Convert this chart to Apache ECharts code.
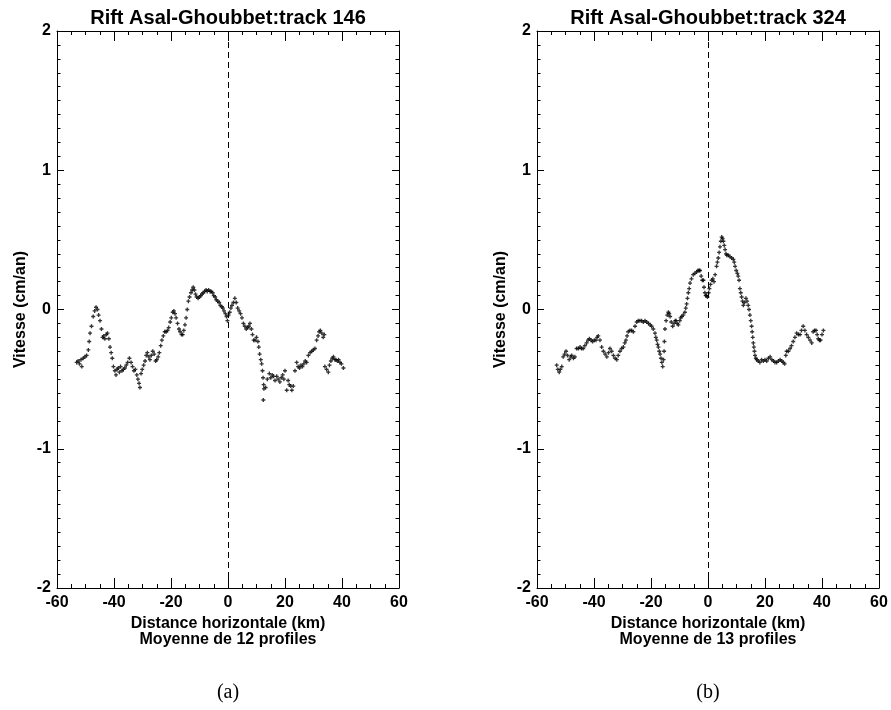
<!DOCTYPE html>
<html>
<head>
<meta charset="utf-8">
<script src="https://cdn.jsdelivr.net/npm/echarts@6/dist/echarts.min.js"></script>
<style>
  html, body { margin: 0; padding: 0; background: #fff; }
  #chart { width: 891px; height: 710px; }
</style>
</head>
<body>
<div id="chart"></div>
<script>
// track 146 (panel a): distance (km) / velocity (cm/an)
const distA = [
  -53.1, -52.6, -52.1, -51.6, -51.3, -50.8, -50.2, -49.6, -49.0, -48.7, -48.4, -47.9, -47.3, -46.8, -46.3, -45.8,
  -45.4, -44.9, -44.4, -44.0, -43.6, -43.2, -42.7, -42.3, -41.8, -41.4, -41.0, -40.6, -40.2, -39.7, -39.3, -38.9,
  -38.5, -38.1, -37.7, -37.2, -36.7, -36.2, -35.7, -35.2, -34.6, -34.0, -33.5, -33.0, -32.5, -32.0, -31.6, -31.2,
  -30.9, -30.5, -30.1, -29.6, -29.1, -28.7, -28.3, -27.8, -27.4, -26.9, -26.4, -25.9, -25.4, -25.0, -24.5, -24.1,
  -23.6, -23.2, -22.7, -22.2, -21.7, -21.2, -20.8, -20.3, -19.9, -19.4, -19.0, -18.6, -18.2, -17.7, -17.2, -16.8,
  -16.3, -15.9, -15.5, -15.1, -14.7, -14.3, -13.9, -13.5, -13.0, -12.6, -12.2, -11.8, -11.4, -11.0, -10.5, -10.0,
  -9.6, -9.1, -8.7, -8.2, -7.7, -7.3, -6.8, -6.3, -5.9, -5.4, -5.0, -4.5, -4.1, -3.6, -3.1, -2.7,
  -2.2, -1.8, -1.4, -0.9, -0.5, -0.2, 0.2, 0.6, 1.0, 1.4, 1.9, 2.4, 2.9, 3.4, 3.9, 4.4,
  4.9, 5.4, 5.9, 6.4, 6.9, 7.3, 7.7, 8.2, 8.6, 9.0, 9.5, 10.0, 10.5, 10.8, 11.1, 11.5,
  11.8, 12.1, 12.3, 12.5, 12.6, 12.4, 13.2, 13.8, 14.5, 15.0, 15.5, 16.0, 16.5, 17.1, 17.6, 18.2,
  18.7, 19.2, 19.6, 20.0, 20.6, 21.1, 21.5, 22.0, 22.4, 22.9, 23.5, 24.1, 24.6, 25.1, 25.6, 26.1,
  26.6, 27.1, 27.6, 28.2, 28.8, 29.4, 29.9, 30.5, 31.1, 31.6, 32.0, 32.4, 32.9, 33.4, 33.8, 34.0,
  34.6, 35.2, 35.6, 36.1, 36.6, 37.0, 37.5, 37.9, 38.4, 38.8, 39.3, 39.8, 40.5
];
const speedA = [
  -0.38, -0.37, -0.39, -0.36, -0.41, -0.35, -0.34, -0.33, -0.29, -0.23, -0.17, -0.12, -0.05, -0.01, 0.016, 0.0,
  -0.04, -0.08, -0.14, -0.20, -0.19, -0.21, -0.18, -0.17, -0.21, -0.27, -0.31, -0.35, -0.41, -0.44, -0.47, -0.43,
  -0.42, -0.45, -0.41, -0.44, -0.43, -0.42, -0.40, -0.38, -0.35, -0.38, -0.41, -0.44, -0.43, -0.47, -0.50, -0.53,
  -0.56, -0.46, -0.43, -0.40, -0.37, -0.33, -0.31, -0.34, -0.36, -0.33, -0.30, -0.32, -0.37, -0.36, -0.34, -0.31,
  -0.26, -0.22, -0.19, -0.16, -0.16, -0.15, -0.13, -0.09, -0.06, -0.02, -0.01, -0.03, -0.06, -0.10, -0.14, -0.16,
  -0.18, -0.18, -0.15, -0.11, -0.06, 0.00, 0.06, 0.09, 0.12, 0.14, 0.16, 0.14, 0.11, 0.09, 0.08, 0.09,
  0.10, 0.11, 0.12, 0.13, 0.14, 0.13, 0.14, 0.13, 0.13, 0.12, 0.10, 0.09, 0.07, 0.06, 0.05, 0.03,
  0.02, 0.01, -0.01, -0.03, -0.05, -0.08, -0.04, -0.02, 0.01, 0.03, 0.05, 0.08, 0.05, 0.01, -0.01, -0.03,
  -0.06, -0.10, -0.12, -0.14, -0.13, -0.12, -0.10, -0.14, -0.18, -0.22, -0.22, -0.20, -0.23, -0.27, -0.32, -0.36,
  -0.39, -0.44, -0.49, -0.54, -0.57, -0.65, -0.56, -0.50, -0.46, -0.49, -0.47, -0.48, -0.51, -0.48, -0.50, -0.52,
  -0.49, -0.47, -0.50, -0.44, -0.58, -0.51, -0.54, -0.55, -0.58, -0.55, -0.44, -0.38, -0.41, -0.42, -0.40, -0.41,
  -0.39, -0.37, -0.38, -0.33, -0.31, -0.30, -0.29, -0.28, -0.22, -0.19, -0.16, -0.15, -0.17, -0.20, -0.18, -0.41,
  -0.43, -0.45, -0.40, -0.37, -0.35, -0.34, -0.36, -0.36, -0.37, -0.36, -0.38, -0.39, -0.42
];

// track 324 (panel b)
const distB = [
  -53.1, -52.7, -52.2, -51.8, -51.3, -50.8, -50.3, -49.8, -49.3, -48.7, -48.2, -47.8, -47.2, -46.7, -46.1, -45.5,
  -44.9, -44.4, -43.8, -43.2, -42.6, -42.1, -41.6, -41.0, -40.5, -39.9, -39.3, -38.9, -38.5, -37.9, -37.3, -36.7,
  -36.1, -35.5, -34.9, -34.4, -33.8, -33.2, -32.6, -32.0, -31.5, -30.9, -30.3, -29.7, -29.2, -28.8, -28.4, -28.0,
  -27.4, -26.8, -26.2, -25.6, -25.0, -24.5, -23.9, -23.3, -22.7, -22.1, -21.5, -20.9, -20.3, -19.8, -19.2, -18.6,
  -18.3, -18.0, -17.7, -17.4, -17.1, -16.8, -16.5, -16.2, -15.9, -15.6, -15.4, -15.3, -15.1, -14.7, -14.3, -13.9,
  -13.6, -13.3, -12.9, -12.4, -11.9, -11.5, -11.2, -10.8, -10.4, -9.9, -9.6, -9.2, -8.7, -8.1, -7.8, -7.5,
  -7.2, -6.9, -6.6, -6.3, -5.8, -5.2, -4.6, -4.0, -3.5, -3.1, -2.8, -2.4, -2.0, -1.6, -1.4, -1.1,
  -0.8, -0.5, -0.2, 0.2, 0.5, 0.9, 1.3, 1.7, 2.1, 2.5, 3.0, 3.3, 3.6, 3.9, 4.2, 4.5,
  4.8, 5.1, 5.4, 5.7, 6.0, 6.3, 6.6, 7.1, 7.7, 8.3, 8.9, 9.2, 9.5, 9.9, 10.3, 10.6,
  10.9, 11.2, 11.5, 11.8, 12.1, 12.4, 12.8, 13.3, 13.7, 14.1, 14.4, 14.7, 15.0, 15.3, 15.5, 15.7,
  15.9, 16.1, 16.3, 16.5, 16.8, 17.1, 17.6, 18.2, 18.8, 19.4, 20.0, 20.6, 21.2, 21.8, 22.4, 23.0,
  23.5, 24.1, 24.7, 25.3, 25.9, 26.4, 26.9, 27.3, 27.6, 28.2, 28.8, 29.3, 29.9, 30.5, 31.1, 31.7,
  32.3, 32.8, 33.4, 34.0, 34.6, 35.2, 35.8, 36.4, 36.9, 37.4, 37.9, 38.3, 38.7, 39.1, 39.5, 40.0,
  40.5
];
const speedB = [
  -0.40, -0.43, -0.45, -0.43, -0.41, -0.34, -0.32, -0.30, -0.33, -0.36, -0.34, -0.33, -0.35, -0.34, -0.28, -0.28,
  -0.27, -0.28, -0.28, -0.26, -0.24, -0.22, -0.21, -0.22, -0.23, -0.22, -0.22, -0.20, -0.19, -0.22, -0.27, -0.30,
  -0.32, -0.34, -0.31, -0.28, -0.30, -0.33, -0.35, -0.36, -0.33, -0.30, -0.28, -0.27, -0.24, -0.22, -0.19, -0.16,
  -0.15, -0.15, -0.16, -0.12, -0.09, -0.08, -0.08, -0.08, -0.09, -0.08, -0.09, -0.10, -0.11, -0.12, -0.14, -0.17,
  -0.20, -0.22, -0.25, -0.27, -0.30, -0.32, -0.35, -0.38, -0.41, -0.36, -0.30, -0.23, -0.14, -0.08, -0.04, -0.02,
  -0.03, -0.05, -0.09, -0.12, -0.10, -0.08, -0.08, -0.10, -0.11, -0.08, -0.06, -0.05, -0.04, -0.02, 0.01, 0.04,
  0.08, 0.12, 0.15, 0.19, 0.22, 0.25, 0.26, 0.27, 0.28, 0.28, 0.28, 0.24, 0.21, 0.21, 0.16, 0.12,
  0.10, 0.10, 0.09, 0.12, 0.15, 0.18, 0.21, 0.22, 0.20, 0.25, 0.31, 0.34, 0.37, 0.41, 0.45, 0.49,
  0.52, 0.51, 0.49, 0.46, 0.43, 0.40, 0.39, 0.39, 0.38, 0.37, 0.36, 0.34, 0.31, 0.28, 0.26, 0.24,
  0.21, 0.15, 0.12, 0.09, 0.06, 0.03, 0.05, 0.08, 0.06, 0.03, 0.00, -0.04, -0.08, -0.12, -0.16, -0.20,
  -0.24, -0.27, -0.30, -0.33, -0.35, -0.36, -0.37, -0.38, -0.36, -0.37, -0.36, -0.37, -0.35, -0.34, -0.36, -0.37,
  -0.38, -0.38, -0.37, -0.36, -0.37, -0.38, -0.39, -0.33, -0.30, -0.30, -0.28, -0.26, -0.23, -0.20, -0.17, -0.18,
  -0.18, -0.15, -0.12, -0.15, -0.18, -0.20, -0.22, -0.24, -0.16, -0.15, -0.15, -0.18, -0.21, -0.22, -0.22, -0.18,
  -0.15
];

const xTicks = [-60, 60, 20];
const yTicks = [-2, 2, 1];
const panelTitles = ['Rift Asal-Ghoubbet:track 146', 'Rift Asal-Ghoubbet:track 324'];
const xNames = ['Distance horizontale (km)\nMoyenne de 12 profiles', 'Distance horizontale (km)\nMoyenne de 13 profiles'];
const yName = 'Vitesse (cm/an)';
const captions = ['(a)', '(b)'];

const font = 'Liberation Sans, Arial, Helvetica, sans-serif';
const plus = 'path://M1,0H2V1H3V2H2V3H1V2H0V1H1Z';
const panelLeft = [57, 537];
const panelWidth = 342;

const pairs = (xs, ys) => xs.map((x, i) => [x, ys[i]]);

const xAxisFor = (g, pos) => ({
  type: 'value',
  gridIndex: g,
  position: pos,
  min: xTicks[0],
  max: xTicks[1],
  interval: xTicks[2],
  name: pos === 'bottom' ? xNames[g] : '',
  nameLocation: 'middle',
  nameGap: 24,
  nameTextStyle: { fontFamily: font, fontWeight: 'bold', fontSize: 16, color: '#000', lineHeight: 16 },
  axisLine: { show: true, onZero: false, lineStyle: { color: '#000', width: 1 } },
  axisTick: { show: true, inside: true, length: 10, lineStyle: { color: '#000' } },
  minorTick: { show: true, splitNumber: 4, length: 4, lineStyle: { color: '#000' } },
  axisLabel: {
    show: pos === 'bottom',
    margin: 7,
    fontFamily: font,
    fontWeight: 'bold',
    fontSize: 16,
    color: '#000'
  },
  splitLine: { show: false }
});

const yAxisFor = (g, pos) => ({
  type: 'value',
  gridIndex: g,
  position: pos,
  min: yTicks[0],
  max: yTicks[1],
  interval: yTicks[2],
  name: pos === 'left' ? yName : '',
  nameLocation: 'middle',
  nameGap: 28,
  nameTextStyle: { fontFamily: font, fontWeight: 'bold', fontSize: 16, color: '#000' },
  axisLine: { show: true, onZero: false, lineStyle: { color: '#000', width: 1 } },
  axisTick: { show: true, inside: true, length: 7, lineStyle: { color: '#000' } },
  minorTick: { show: true, splitNumber: 10, length: 3.5, lineStyle: { color: '#000' } },
  axisLabel: {
    show: pos === 'left',
    margin: 6,
    fontFamily: font,
    fontWeight: 'bold',
    fontSize: 16,
    color: '#000'
  },
  splitLine: { show: false }
});

const scatterFor = (g, xs, ys) => ({
  type: 'scatter',
  xAxisIndex: g * 2,
  yAxisIndex: g * 2,
  data: pairs(xs, ys),
  symbol: plus,
  symbolSize: 4,
  itemStyle: { color: '#000' },
  silent: true,
  markLine: {
    silent: true,
    symbol: 'none',
    label: { show: false },
    lineStyle: { color: '#000', width: 1, type: [6, 4] },
    data: [{ xAxis: 0 }]
  }
});

const chart = echarts.init(document.getElementById('chart'), null, { renderer: 'canvas' });
chart.setOption({
  backgroundColor: '#fff',
  animation: false,
  grid: panelLeft.map(l => ({ left: l, top: 31, width: panelWidth, height: 557 })),
  xAxis: [xAxisFor(0, 'bottom'), xAxisFor(0, 'top'), xAxisFor(1, 'bottom'), xAxisFor(1, 'top')],
  yAxis: [yAxisFor(0, 'left'), yAxisFor(0, 'right'), yAxisFor(1, 'left'), yAxisFor(1, 'right')],
  graphic: [0, 1].flatMap(g => [
    {
      type: 'text',
      x: panelLeft[g] + panelWidth / 2,
      y: 18,
      style: {
        text: panelTitles[g],
        align: 'center',
        verticalAlign: 'middle',
        font: 'bold 20px ' + font,
        fill: '#000'
      }
    },
    {
      type: 'text',
      x: panelLeft[g] + panelWidth / 2,
      y: 693,
      style: {
        text: captions[g],
        align: 'center',
        verticalAlign: 'middle',
        font: '20px "Liberation Serif", "DejaVu Serif", serif',
        fill: '#000'
      }
    }
  ]),
  series: [scatterFor(0, distA, speedA), scatterFor(1, distB, speedB)]
});
</script>
</body>
</html>
